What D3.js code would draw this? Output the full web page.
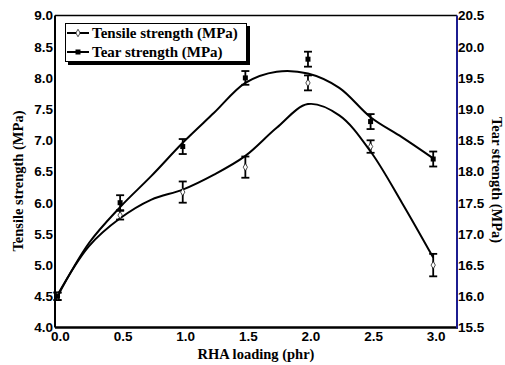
<!DOCTYPE html>
<meta charset="utf-8">
<script src="https://d3js.org/d3.v7.min.js"></script>
<style>
  body { margin: 0; background: #fff; }
  .tick-lbl { font-family: "Liberation Sans", Arial, sans-serif; font-weight: bold; font-size: 13.5px; }
  .title { font-family: "Liberation Serif", "Times New Roman", serif; font-weight: bold; font-size: 14.5px; }
</style>
<div id="chart"></div>
<script>
// measured points (RHA loading in phr)
const loading = [0, 0.5, 1.0, 1.5, 2.0, 2.5, 3.0];
const tensile = [4.5, 5.8, 6.17, 6.57, 7.92, 6.9, 5.0];
const tensileErr = [0.06, 0.07, 0.17, 0.17, 0.12, 0.1, 0.18];
const tear = [16.0, 17.5, 18.4, 19.5, 19.8, 18.8, 18.2];
const tearErr = [0.06, 0.12, 0.12, 0.11, 0.12, 0.12, 0.12];

// fitted curves
const fitX = [0, 0.25, 0.5, 0.75, 1.0, 1.25, 1.5, 1.75, 2.0, 2.25, 2.5, 2.75, 3.0];
const tensileFit = [4.52, 5.3, 5.75, 6.05, 6.21, 6.45, 6.75, 7.2, 7.58, 7.4, 6.82, 6.0, 5.12];
const tearFit = [16.0, 16.85, 17.43, 17.93, 18.46, 18.94, 19.42, 19.6, 19.57, 19.34, 18.87, 18.55, 18.21];

const xTicks = [0, 0.5, 1.0, 1.5, 2.0, 2.5, 3.0];
const leftTicks = [4.0, 4.5, 5.0, 5.5, 6.0, 6.5, 7.0, 7.5, 8.0, 8.5, 9.0];
const rightTicks = [15.5, 16.0, 16.5, 17.0, 17.5, 18.0, 18.5, 19.0, 19.5, 20.0, 20.5];
const legendLabels = ["Tensile strength (MPa)", "Tear strength (MPa)"];

const W = 505, H = 365;
const pL = 55, pR = 457, pT = 15.5, pB = 327.5;

const svg = d3.select("#chart").append("svg")
  .attr("width", W).attr("height", H);

const x = d3.scaleLinear().domain([-0.02, 3.19]).range([pL, pR]);
const yL = d3.scaleLinear().domain([4, 9]).range([pB, pT]);
const yR = d3.scaleLinear().domain([15.5, 20.5]).range([pB, pT]);

// frame
svg.append("line").attr("x1", pL).attr("x2", pR).attr("y1", pT).attr("y2", pT)
  .attr("stroke", "#000").attr("stroke-width", 1.5);
svg.append("line").attr("x1", pL).attr("x2", pR + 1).attr("y1", pB).attr("y2", pB)
  .attr("stroke", "#000").attr("stroke-width", 2.5);
svg.append("line").attr("x1", pL).attr("x2", pL).attr("y1", pT).attr("y2", pB)
  .attr("stroke", "#000").attr("stroke-width", 2);
svg.append("line").attr("x1", pR).attr("x2", pR).attr("y1", pT).attr("y2", pB + 1)
  .attr("stroke", "#1c1c90").attr("stroke-width", 2);

// tick labels
svg.append("g").selectAll("text").data(xTicks).join("text")
  .attr("class", "tick-lbl")
  .attr("x", d => x(d) + 3).attr("y", 341)
  .attr("text-anchor", "middle")
  .text(d => d.toFixed(1));
svg.append("g").selectAll("text").data(leftTicks).join("text")
  .attr("class", "tick-lbl")
  .attr("x", 53).attr("y", d => yL(d))
  .attr("dy", "0.36em")
  .attr("text-anchor", "end")
  .text(d => d.toFixed(1));
svg.append("g").selectAll("text").data(rightTicks).join("text")
  .attr("class", "tick-lbl")
  .attr("x", 458).attr("y", d => yR(d))
  .attr("dy", "0.36em")
  .text(d => d.toFixed(1));

// axis titles
svg.append("text").attr("class", "title")
  .attr("x", 256).attr("y", 359).attr("text-anchor", "middle")
  .text("RHA loading (phr)");
svg.append("text").attr("class", "title")
  .attr("transform", "translate(18,181) rotate(-90)")
  .attr("text-anchor", "middle").attr("dy", "0.35em")
  .text("Tensile strength (MPa)");
svg.append("text").attr("class", "title")
  .attr("transform", "translate(497,180) rotate(90)")
  .attr("text-anchor", "middle").attr("dy", "0.35em")
  .text("Tear strength (MPa)");

// fitted curves
const fitLine = ys => d3.line()
  .x((d, i) => x(fitX[i]))
  .y(d => ys(d))
  .curve(d3.curveCatmullRom);
svg.append("path").datum(tensileFit)
  .attr("d", fitLine(yL)).attr("fill", "none")
  .attr("stroke", "#000").attr("stroke-width", 2);
svg.append("path").datum(tearFit)
  .attr("d", fitLine(yR)).attr("fill", "none")
  .attr("stroke", "#000").attr("stroke-width", 2);

// error bars
function errBars(vals, errs, ys) {
  const g = svg.append("g").attr("stroke", "#000").attr("stroke-width", 1.8);
  loading.forEach((l, i) => {
    const cx = x(l), y1 = ys(vals[i] + errs[i]), y2 = ys(vals[i] - errs[i]);
    g.append("line").attr("x1", cx).attr("x2", cx).attr("y1", y1).attr("y2", y2);
    g.append("line").attr("x1", cx - 4).attr("x2", cx + 4).attr("y1", y1).attr("y2", y1);
    g.append("line").attr("x1", cx - 4).attr("x2", cx + 4).attr("y1", y2).attr("y2", y2);
  });
}
errBars(tensile, tensileErr, yL);
errBars(tear, tearErr, yR);

// markers
const diamond = d3.symbol().type(d3.symbolDiamond).size(16);
svg.append("g").selectAll("path").data(tensile).join("path")
  .attr("d", diamond)
  .attr("transform", (d, i) => `translate(${x(loading[i])},${yL(d)})`)
  .attr("fill", "#fff").attr("stroke", "#000").attr("stroke-width", 0.7);
svg.append("g").selectAll("rect").data(tear).join("rect")
  .attr("x", (d, i) => x(loading[i]) - 2.5).attr("y", d => yR(d) - 2.5)
  .attr("width", 5).attr("height", 5).attr("fill", "#000");

// legend with shadow
const lg = svg.append("g");
lg.append("rect").attr("x", 68).attr("y", 26).attr("width", 182).attr("height", 39).attr("fill", "#000");
lg.append("rect").attr("x", 65.5).attr("y", 23.5).attr("width", 181).attr("height", 38)
  .attr("fill", "#fff").attr("stroke", "#000").attr("stroke-width", 1);
legendLabels.forEach((lab, i) => {
  const ly = 33 + i * 19;
  lg.append("line").attr("x1", 67).attr("x2", 89).attr("y1", ly).attr("y2", ly)
    .attr("stroke", "#000").attr("stroke-width", 2);
  if (i === 0) {
    lg.append("path").attr("d", diamond).attr("transform", `translate(78,${ly})`)
      .attr("fill", "#fff").attr("stroke", "#000").attr("stroke-width", 0.7);
  } else {
    lg.append("rect").attr("x", 75.5).attr("y", ly - 2.5).attr("width", 5).attr("height", 5).attr("fill", "#000");
  }
  lg.append("text").attr("class", "title").style("font-size", "15px")
    .attr("x", 92).attr("y", ly).attr("dy", "0.35em").text(lab);
});
</script>
